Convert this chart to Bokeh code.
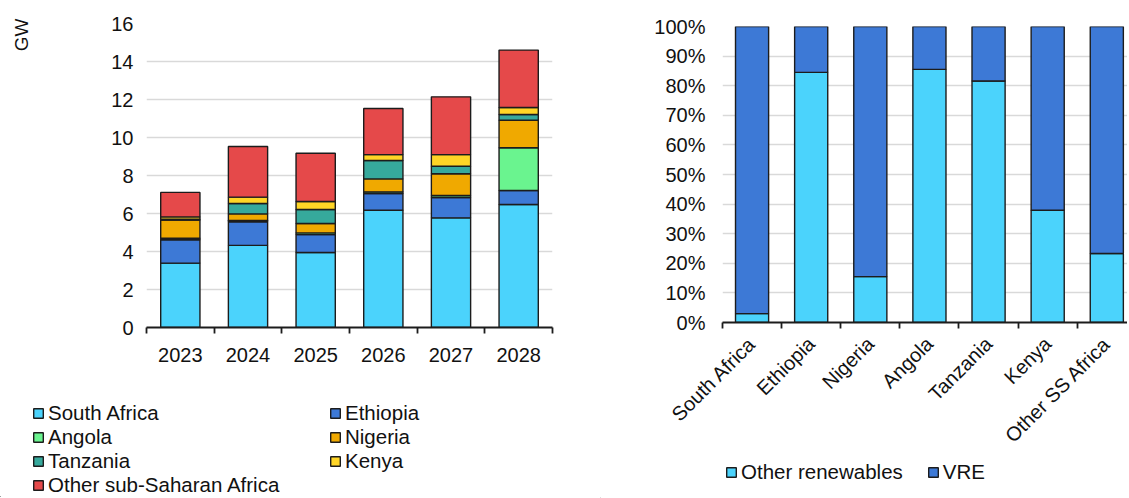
import math
from bokeh.plotting import figure
from bokeh.models import (Range1d, FixedTicker, Legend, LegendItem, Title,
                          NumeralTickFormatter, ColumnDataSource)
from bokeh.layouts import row, column
from bokeh.embed import file_html
from bokeh.resources import INLINE

# ---------------- data: left chart (GW) ----------------
years = ["2023", "2024", "2025", "2026", "2027", "2028"]
south_africa = [3.39, 4.32, 3.95, 6.17, 5.77, 6.47]
ethiopia = [1.23, 1.24, 0.94, 0.88, 1.07, 0.74]
angola = [0.08, 0.07, 0.09, 0.09, 0.11, 2.25]
nigeria = [0.96, 0.35, 0.49, 0.68, 1.14, 1.45]
tanzania = [0.04, 0.55, 0.74, 0.97, 0.40, 0.30]
kenya = [0.12, 0.33, 0.42, 0.31, 0.61, 0.37]
other_ssa = [1.29, 2.67, 2.54, 2.43, 3.04, 3.02]
left_names = ["South Africa", "Ethiopia", "Angola", "Nigeria", "Tanzania",
              "Kenya", "Other sub-Saharan Africa"]
gw_ticks = [0, 2, 4, 6, 8, 10, 12, 14, 16]

# ---------------- data: right chart (share) ----------------
countries = ["South Africa", "Ethiopia", "Nigeria", "Angola", "Tanzania",
             "Kenya", "Other SS Africa"]
other_renewables = [0.030, 0.845, 0.155, 0.855, 0.816, 0.379, 0.233]
vre = [0.970, 0.155, 0.845, 0.145, 0.184, 0.621, 0.767]
right_names = ["Other renewables", "VRE"]
pct_ticks = [0.0, 0.1, 0.2, 0.3, 0.4, 0.5, 0.6, 0.7, 0.8, 0.9, 1.0]

# ---------------- styles ----------------
FONT = "Liberation Sans"
TXT = "#111111"
EDGE = "#1c1c1c"
left_colors = ["#4BD3FC", "#3D79D6", "#6AF48F", "#F0A900", "#36A99C",
               "#FFD526", "#E5494A"]
right_colors = ["#4BD3FC", "#3D79D6"]


def style_bottom_axis(ax, centers, n, rotate=False):
    ax.ticker = FixedTicker(ticks=centers, minor_ticks=list(range(n + 1)))
    ax.axis_line_color = EDGE
    ax.axis_line_width = 1.8
    ax.major_tick_line_color = None
    ax.major_tick_out = 0
    ax.minor_tick_line_color = EDGE
    ax.minor_tick_line_width = 1.8
    ax.minor_tick_out = 6
    ax.minor_tick_in = 0
    ax.major_label_text_font = FONT
    ax.major_label_text_font_size = "20px"
    ax.major_label_text_color = TXT
    if rotate:
        ax.major_label_orientation = math.pi / 4


def style_left_axis(ax, ticks, standoff):
    ax.ticker = FixedTicker(ticks=ticks)
    ax.axis_line_color = None
    ax.major_tick_line_color = None
    ax.minor_tick_line_color = None
    ax.major_tick_out = 0
    ax.major_label_standoff = standoff
    ax.major_label_text_font = FONT
    ax.major_label_text_font_size = "20px"
    ax.major_label_text_color = TXT


def blank_figure(w, h, **kw):
    f = figure(width=w, height=h, output_backend="svg", toolbar_location=None,
               x_axis_location=None, y_axis_location=None,
               x_range=Range1d(0, 1), y_range=Range1d(0, 1), frame_align=False,
               **kw)
    f.outline_line_color = None
    f.grid.visible = False
    return f


def legend_figure(w, h, names, colors, ncols, loc, label_width, spacing):
    # a legend-only strip: the swatch renderers sit outside its visible range
    f = blank_figure(w, h, min_border=0)
    items = []
    for name, col in zip(names, colors):
        r = f.vbar(x=[-5], top=[-5], bottom=[-6], width=0.5, fill_color=col,
                   line_color=EDGE, line_width=1.4)
        items.append(LegendItem(label=name, renderers=[r]))
    kw = dict(ncols=ncols) if ncols else {}
    leg = Legend(items=items, orientation="horizontal", location=loc,
                 glyph_width=12, glyph_height=12, label_standoff=4,
                 label_width=label_width, label_height=20, spacing=spacing,
                 padding=0, margin=0, label_text_font=FONT,
                 label_text_font_size="20.5px", label_text_color=TXT,
                 label_text_line_height=1.0,
                 background_fill_alpha=0, border_line_color=None, **kw)
    f.add_layout(leg, "center")
    return f


# ================= "GW" unit label strip =================
G = blank_figure(46, 387, min_border_left=0, min_border_right=0,
                 min_border_top=18, min_border_bottom=65)
G.add_layout(Title(text="GW", align="right", standoff=16, text_font=FONT,
                   text_font_size="19px", text_font_style="normal",
                   text_color=TXT), "left")

# ================= left figure =================
n_left = len(years)
x_left = [i + 0.5 for i in range(n_left)]
keys_left = ["s%d" % i for i in range(len(left_names))]
src_left = ColumnDataSource(dict(x=x_left, **dict(zip(keys_left, [
    south_africa, ethiopia, angola, nigeria, tanzania, kenya, other_ssa]))))

p1 = figure(width=554, height=387, output_backend="svg", toolbar_location=None,
            x_range=Range1d(0, n_left), y_range=Range1d(0, 16),
            min_border_left=100, min_border_right=48, min_border_top=23,
            min_border_bottom=60, frame_align=False)
p1.outline_line_color = None
p1.vbar_stack(keys_left, x="x", width=0.58, color=left_colors,
              line_color=EDGE, line_width=1.4, source=src_left)
p1.xgrid.grid_line_color = None
p1.ygrid.grid_line_color = "#d9d9d9"
p1.ygrid.grid_line_width = 1.5
p1.ygrid.ticker = FixedTicker(ticks=gw_ticks)

ya = p1.yaxis[0]
style_left_axis(ya, gw_ticks, 13)

xa = p1.xaxis[0]
style_bottom_axis(xa, x_left, n_left)
xa.major_label_overrides = {x: y for x, y in zip(x_left, years)}
xa.major_label_standoff = 14

L1 = legend_figure(600, 110, left_names, left_colors, 2, (32, 0), 281, 0)

# ================= right figure =================
n_right = len(countries)
x_right = [i + 0.5 for i in range(n_right)]
src_right = ColumnDataSource(dict(x=x_right, other=other_renewables, vre=vre))

p2 = figure(width=527, height=457, output_backend="svg", toolbar_location=None,
            x_range=Range1d(0, 6.85), y_range=Range1d(0, 1),
            min_border_left=122, min_border_right=0, min_border_top=26,
            min_border_bottom=135, frame_align=False)
p2.outline_line_color = None
p2.vbar_stack(["other", "vre"], x="x", width=0.56, color=right_colors,
              line_color=EDGE, line_width=1.4, source=src_right)
p2.xgrid.grid_line_color = None
p2.ygrid.grid_line_color = "#d9d9d9"
p2.ygrid.grid_line_width = 1.5
p2.ygrid.ticker = FixedTicker(ticks=pct_ticks)

ya2 = p2.yaxis[0]
style_left_axis(ya2, pct_ticks, 17)
ya2.formatter = NumeralTickFormatter(format="0%")

xa2 = p2.xaxis[0]
style_bottom_axis(xa2, x_right, n_right, rotate=True)
xa2.major_label_overrides = {x: c for x, c in zip(x_right, countries)}
xa2.major_label_standoff = 12

L2 = legend_figure(527, 41, right_names, right_colors, None, (125, 14), 20, 24)

layout = row(column(row(G, p1), L1), column(p2, L2))
open("out.html", "w").write(file_html(layout, INLINE))
